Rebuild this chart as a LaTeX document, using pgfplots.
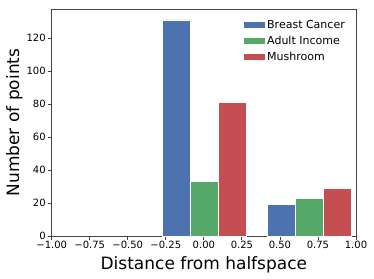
\documentclass[border=0pt]{standalone}
\usepackage{pgfplots}
\pgfplotsset{compat=1.18}
\usepackage{fontspec}
\setmainfont{DejaVu Sans}
\definecolor{sbblue}{HTML}{4C72B0}
\definecolor{sbgreen}{HTML}{55A868}
\definecolor{sbred}{HTML}{C44E52}
\definecolor{spine}{HTML}{444444}
\begin{document}
\begin{tikzpicture}
\begin{axis}[
  name=ax,
  scale only axis,
  width=304.3pt, height=227pt,
  xmin=-1, xmax=1, ymin=0, ymax=137.55,
  xtick={-1,-0.75,-0.5,-0.25,0,0.25,0.5,0.75,1},
  xticklabels={−1.00,−0.75,−0.50,−0.25,0.00,0.25,0.50,0.75,1.00},
  ytick={0,20,40,60,80,100,120},
  yticklabels={0,20,40,60,80,100,120},
  tick align=outside, tick pos=left,
  major tick length=3.5pt,
  every tick/.style={spine, line width=0.8pt},
  axis line style={spine, line width=0.8pt},
  ticklabel style={font=\fontsize{10}{12}\selectfont, text=black},
  xticklabel style={yshift=1.5pt},
  yticklabel style={xshift=1pt},
  xlabel={Distance from halfspace},
  ylabel={Number of points},
  label style={font=\fontsize{17}{19}\selectfont},
  xlabel style={yshift=-1pt},
  ylabel style={yshift=-3pt},
  ybar, bar shift=0pt, bar width=0.1843,
  legend style={draw=none, fill=none, at={(1,1)}, anchor=north east,
    xshift=-6pt, yshift=-7pt,
    font=\fontsize{11}{13}\selectfont,
    row sep=2pt},
  legend cell align=left,
  legend image code/.code={\fill[#1] (0pt,-3.5pt) rectangle (22pt,3.5pt);},
]
\addplot[fill=sbblue, draw=white, line width=0.3pt] coordinates {(-0.182,131) (0.509,19)};
\addplot[fill=sbgreen, draw=white, line width=0.3pt] coordinates {(0.002,33) (0.693,23)};
\addplot[fill=sbred, draw=white, line width=0.3pt] coordinates {(0.186,81) (0.877,29)};
\legend{Breast Cancer, Adult Income, Mushroom}
\end{axis}
\pgfresetboundingbox
\useasboundingbox ([xshift=-51.7pt, yshift=-42pt]ax.south west) rectangle ([xshift=18pt, yshift=9pt]ax.north east);
\end{tikzpicture}
\end{document}
